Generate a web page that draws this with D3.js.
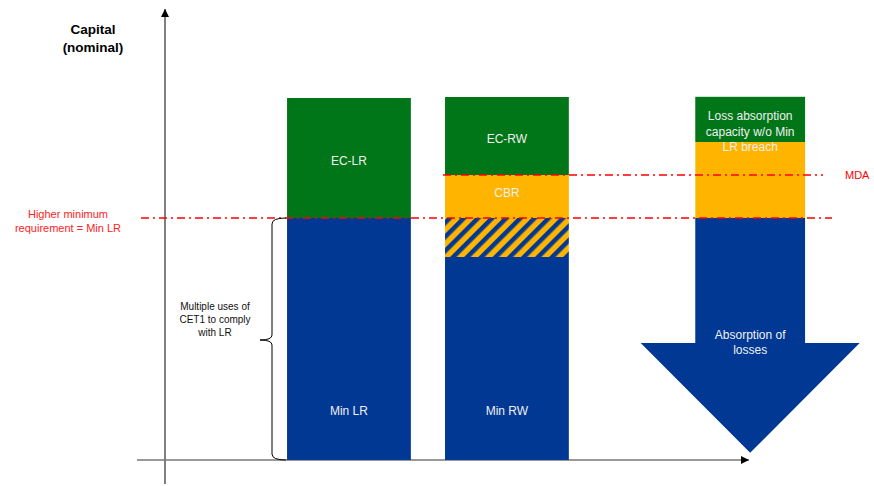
<!DOCTYPE html>
<html>
<head>
<meta charset="utf-8">
<script src="https://cdn.jsdelivr.net/npm/d3@7"></script>
<style>
  body { margin: 0; background: #fff; }
  svg { font-family: "Liberation Sans", Arial, sans-serif; }
</style>
</head>
<body>
<div id="chart"></div>
<script>
var width = 874,
    height = 486;

// capital levels (arbitrary units, 0 = x axis)
var minLR = 60.5;
var mda = 71.25;

// bars and their stacked segments
var bars = ["LR", "RW", "Loss"];
var barCenters = [31.5, 58.55, 100.2];
var barWidths = [21.2, 21.2, 18.8];

var segBar   = ["LR", "LR", "RW", "RW", "RW", "RW", "Loss", "Loss"];
var segFrom  = [0, 60.5, 0, 50.75, 60.5, 71.25, 60.5, 79.5];
var segTo    = [60.5, 90.5, 50.75, 60.5, 71.25, 90.75, 79.5, 90.8];
var segKind  = ["blue", "green", "blue", "hatch", "orange", "green", "orange", "green"];

// arrow (loss absorption) body bottom and tip, head half-width in x units
var arrowNeck = 29.25;
var arrowTip = 1.8;
var arrowHalf = 18.75;

var colors = { blue: "#003893", green: "#007618", orange: "#ffb400" };

var svg = d3.select("#chart")
  .append("svg")
  .attr("width", width)
  .attr("height", height);

var x = d3.scaleLinear().domain([0, 100]).range([165, 749]);
var y = d3.scaleLinear().domain([0, 100]).range([460, 60]);

var defs = svg.append("defs");
var pat = defs.append("pattern")
  .attr("id", "hatch")
  .attr("patternUnits", "userSpaceOnUse")
  .attr("width", 10)
  .attr("height", 10)
  .attr("patternTransform", "rotate(45)");
pat.append("rect").attr("width", 10).attr("height", 10).attr("fill", colors.orange);
pat.append("rect").attr("width", 4.5).attr("height", 10).attr("fill", colors.blue);

defs.append("marker")
  .attr("id", "arr")
  .attr("viewBox", "0 0 10 10")
  .attr("refX", 10).attr("refY", 5)
  .attr("markerWidth", 9).attr("markerHeight", 8)
  .attr("markerUnits", "userSpaceOnUse")
  .attr("orient", "auto")
  .append("path")
  .attr("d", "M0,0 L10,5 L0,10 Z")
  .attr("fill", "#000");

// axes
svg.append("line")
  .attr("x1", x(0)).attr("x2", x(0))
  .attr("y1", 484).attr("y2", 9)
  .attr("stroke", "#000").attr("stroke-width", 1)
  .attr("marker-end", "url(#arr)");

svg.append("line")
  .attr("x1", 137).attr("x2", x(100))
  .attr("y1", y(0)).attr("y2", y(0))
  .attr("stroke", "#777").attr("stroke-width", 1.5)
  .attr("marker-end", "url(#arr)");

svg.append("text")
  .attr("x", 93).attr("y", 34)
  .attr("text-anchor", "middle")
  .style("font-size", "13.5px").style("font-weight", "bold")
  .selectAll("tspan")
  .data(["Capital", "(nominal)"])
  .enter().append("tspan")
  .attr("x", 93).attr("dy", function(d, i){ return i ? 18 : 0; })
  .text(function(d){ return d; });

// segments
var segs = segBar.map(function(b, i){
  return { bar: b, from: segFrom[i], to: segTo[i], kind: segKind[i] };
});

svg.selectAll(".seg")
  .data(segs)
  .enter().append("rect")
  .attr("class", "seg")
  .attr("x", function(d){ var i = bars.indexOf(d.bar); return x(barCenters[i] - barWidths[i] / 2); })
  .attr("width", function(d){ var i = bars.indexOf(d.bar); return x(barWidths[i]) - x(0); })
  .attr("y", function(d){ return y(d.to); })
  .attr("height", function(d){ return y(d.from) - y(d.to); })
  .attr("fill", function(d){ return d.kind === "hatch" ? "url(#hatch)" : colors[d.kind]; });

// arrow on the loss bar
var ai = bars.indexOf("Loss");
var c = barCenters[ai], hw = barWidths[ai] / 2;
svg.append("path")
  .attr("d", d3.line()([
    [x(c - hw), y(minLR)], [x(c + hw), y(minLR)],
    [x(c + hw), y(arrowNeck)], [x(c + arrowHalf), y(arrowNeck)],
    [x(c), y(arrowTip)],
    [x(c - arrowHalf), y(arrowNeck)], [x(c - hw), y(arrowNeck)]
  ]) + "Z")
  .attr("fill", colors.blue);

// threshold lines
svg.append("line")
  .attr("x1", 141).attr("x2", 832)
  .attr("y1", y(minLR)).attr("y2", y(minLR))
  .attr("stroke", "#f00").attr("stroke-width", 1.5)
  .attr("stroke-dasharray", "8,4,2,4");

svg.append("line")
  .attr("x1", 443).attr("x2", 823)
  .attr("y1", y(mda)).attr("y2", y(mda))
  .attr("stroke", "#f00").attr("stroke-width", 1.5)
  .attr("stroke-dasharray", "8,4,2,4");

svg.append("text")
  .attr("x", 845).attr("y", y(mda) + 4)
  .style("font-size", "11px").style("fill", "#f00")
  .text("MDA");

function multiline(lines, cx, cy, lh, size, fill) {
  svg.append("text")
    .attr("text-anchor", "middle")
    .style("font-size", size).style("fill", fill)
    .selectAll("tspan")
    .data(lines)
    .enter().append("tspan")
    .attr("x", cx)
    .attr("y", function(d, i){ return cy + i * lh; })
    .text(function(d){ return d; });
}

multiline(["Higher minimum", "requirement = Min LR"], 68, 218, 13.5, "11px", "#f22");

// brace
var bx = 272, braceTop = y(minLR), braceBot = y(0), braceMid = 340;
svg.append("path")
  .attr("d", "M" + (bx + 14) + "," + braceTop + " Q" + bx + "," + braceTop + " " + bx + "," + (braceTop + 6) +
             " L" + bx + "," + (braceMid - 5) + " Q" + bx + "," + braceMid + " " + (bx - 12) + "," + braceMid +
             " Q" + bx + "," + braceMid + " " + bx + "," + (braceMid + 5) +
             " L" + bx + "," + (braceBot - 6) + " Q" + bx + "," + braceBot + " " + (bx + 14) + "," + braceBot)
  .attr("fill", "none").attr("stroke", "#000").attr("stroke-width", 1);

multiline(["Multiple uses of", "CET1 to comply", "with LR"], 215, 310, 13, "10px", "#111");

// bar labels
var lbl = "#f0f0f0";
multiline(["EC-LR"], x(barCenters[0]), 165, 14, "12px", lbl);
multiline(["Min LR"], x(barCenters[0]), 415, 14, "12px", lbl);
multiline(["EC-RW"], x(barCenters[1]), 143, 14, "12px", lbl);
multiline(["CBR"], x(barCenters[1]), 197, 14, "12px", lbl);
multiline(["Min RW"], x(barCenters[1]), 415, 14, "12px", lbl);
multiline(["Loss absorption", "capacity w/o Min", "LR breach"], x(barCenters[2]), 120, 15.5, "12px", lbl);
multiline(["Absorption of", "losses"], x(barCenters[2]), 339, 15, "12px", lbl);
</script>
</body>
</html>
